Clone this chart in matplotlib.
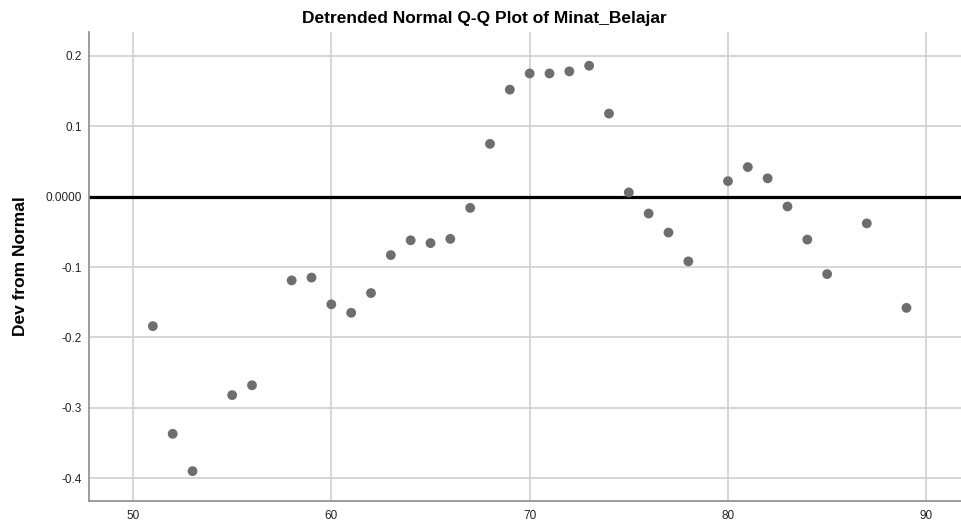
import numpy as np
import matplotlib.pyplot as plt

# observed values (Minat_Belajar) and deviation from normal
observed = [51, 52, 53, 55, 56, 58, 59, 60, 61, 62, 63, 64, 65, 66, 67, 68,
            69, 70, 71, 72, 73, 74, 75, 76, 77, 78, 80, 81, 82, 83, 84, 85,
            87, 89]
dev_normal = [-0.184, -0.337, -0.390, -0.282, -0.268, -0.119, -0.115, -0.153,
              -0.165, -0.137, -0.083, -0.062, -0.066, -0.060, -0.016, 0.075,
              0.152, 0.175, 0.175, 0.178, 0.186, 0.118, 0.006, -0.024, -0.051,
              -0.092, 0.022, 0.042, 0.026, -0.014, -0.061, -0.110, -0.038,
              -0.158]

x_ticks = [50, 60, 70, 80, 90]
y_ticks = [0.2, 0.1, 0.0, -0.1, -0.2, -0.3, -0.4]
y_tick_labels = ["0.2", "0.1", "0.0000", "-0.1", "-0.2", "-0.3", "-0.4"]

plt.rcParams["font.family"] = ["Liberation Sans", "DejaVu Sans"]

fig = plt.figure(figsize=(9.62, 5.27), dpi=100)
ax = fig.add_axes([0.0925, 0.0499, 0.9075, 0.8895])

ax.set_xlim(47.78, 91.8)
ax.set_ylim(-0.432, 0.234)

ax.grid(True, color="#d0d0d0", linewidth=1.2)
ax.set_axisbelow(True)

ax.axhline(0.0, color="black", linewidth=2.3, zorder=2)
ax.scatter(observed, dev_normal, s=50, color="#6e6e6e", edgecolors="none", zorder=3)

ax.set_xticks(x_ticks)
ax.set_yticks(y_ticks)
ax.set_yticklabels(y_tick_labels)
ax.tick_params(axis="both", length=0, labelsize=8.5, colors="#222222")
ax.tick_params(axis="x", pad=7)
ax.tick_params(axis="y", pad=5)

for side in ["top", "right"]:
    ax.spines[side].set_visible(False)
for side in ["left", "bottom"]:
    ax.spines[side].set_color("#8c8c8c")
    ax.spines[side].set_linewidth(1.2)

ax.set_ylabel("Dev from Normal", fontsize=12.5, fontweight="bold", labelpad=13)
fig.text(0.504, 0.964, "Detrended Normal Q-Q Plot of Minat_Belajar",
         ha="center", va="center", fontsize=12.5, fontweight="bold")

fig.savefig("out.png", dpi=100)
